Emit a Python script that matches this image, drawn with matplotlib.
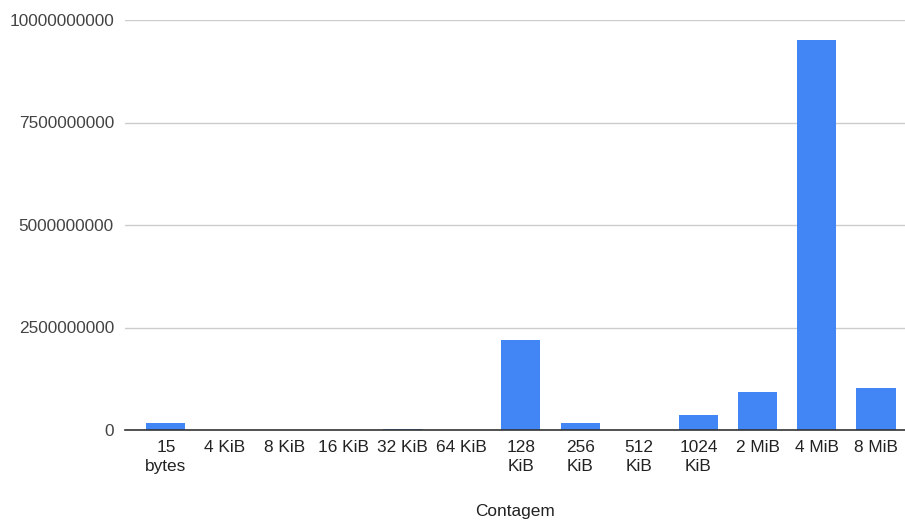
import matplotlib
matplotlib.use("Agg")
import matplotlib.pyplot as plt
from matplotlib.ticker import FixedLocator, FuncFormatter

categories = ["15\nbytes", "4 KiB", "8 KiB", "16 KiB", "32 KiB", "64 KiB",
              "128\nKiB", "256\nKiB", "512\nKiB", "1024\nKiB", "2 MiB", "4 MiB", "8 MiB"]
counts = [170_000_000, 0, 0, 0, 35_000_000, 0,
          2_200_000_000, 170_000_000, 0, 360_000_000, 920_000_000, 9_520_000_000, 1_020_000_000]
y_ticks = [0, 2_500_000_000, 5_000_000_000, 7_500_000_000, 10_000_000_000]
x_title = "Contagem"

plt.rcParams["font.family"] = ["Liberation Sans", "DejaVu Sans"]

fig = plt.figure(figsize=(9.05, 5.22), dpi=100)
ax = fig.add_axes([125 / 905, 1 - 430 / 522, 780 / 905, 410 / 522])

x = list(range(len(categories)))
ax.bar(x, counts, width=0.66, color="#4285F4", zorder=3)

ax.set_xlim(-0.69, 12.49)
ax.set_ylim(0, 10_000_000_000)
ax.yaxis.set_major_locator(FixedLocator(y_ticks))
ax.yaxis.set_major_formatter(FuncFormatter(lambda v, p: f"{int(v)}"))
ax.grid(axis="y", color="#cccccc", linewidth=1, zorder=0)
ax.set_axisbelow(True)

for s in ["top", "right", "left"]:
    ax.spines[s].set_visible(False)
ax.spines["bottom"].set_color("#333333")
ax.spines["bottom"].set_linewidth(1.2)
ax.spines["bottom"].set_zorder(4)

ax.set_xticks(x)
ax.set_xticklabels(categories, linespacing=1.35)
ax.tick_params(axis="x", length=0, pad=7, labelsize=12.4, labelcolor="#222222")
ax.tick_params(axis="y", length=0, pad=8, labelsize=12.4, labelcolor="#444444")

ax.set_xlabel(x_title, fontsize=12.4, color="#222222", labelpad=22)

fig.savefig("out.png", dpi=100)
